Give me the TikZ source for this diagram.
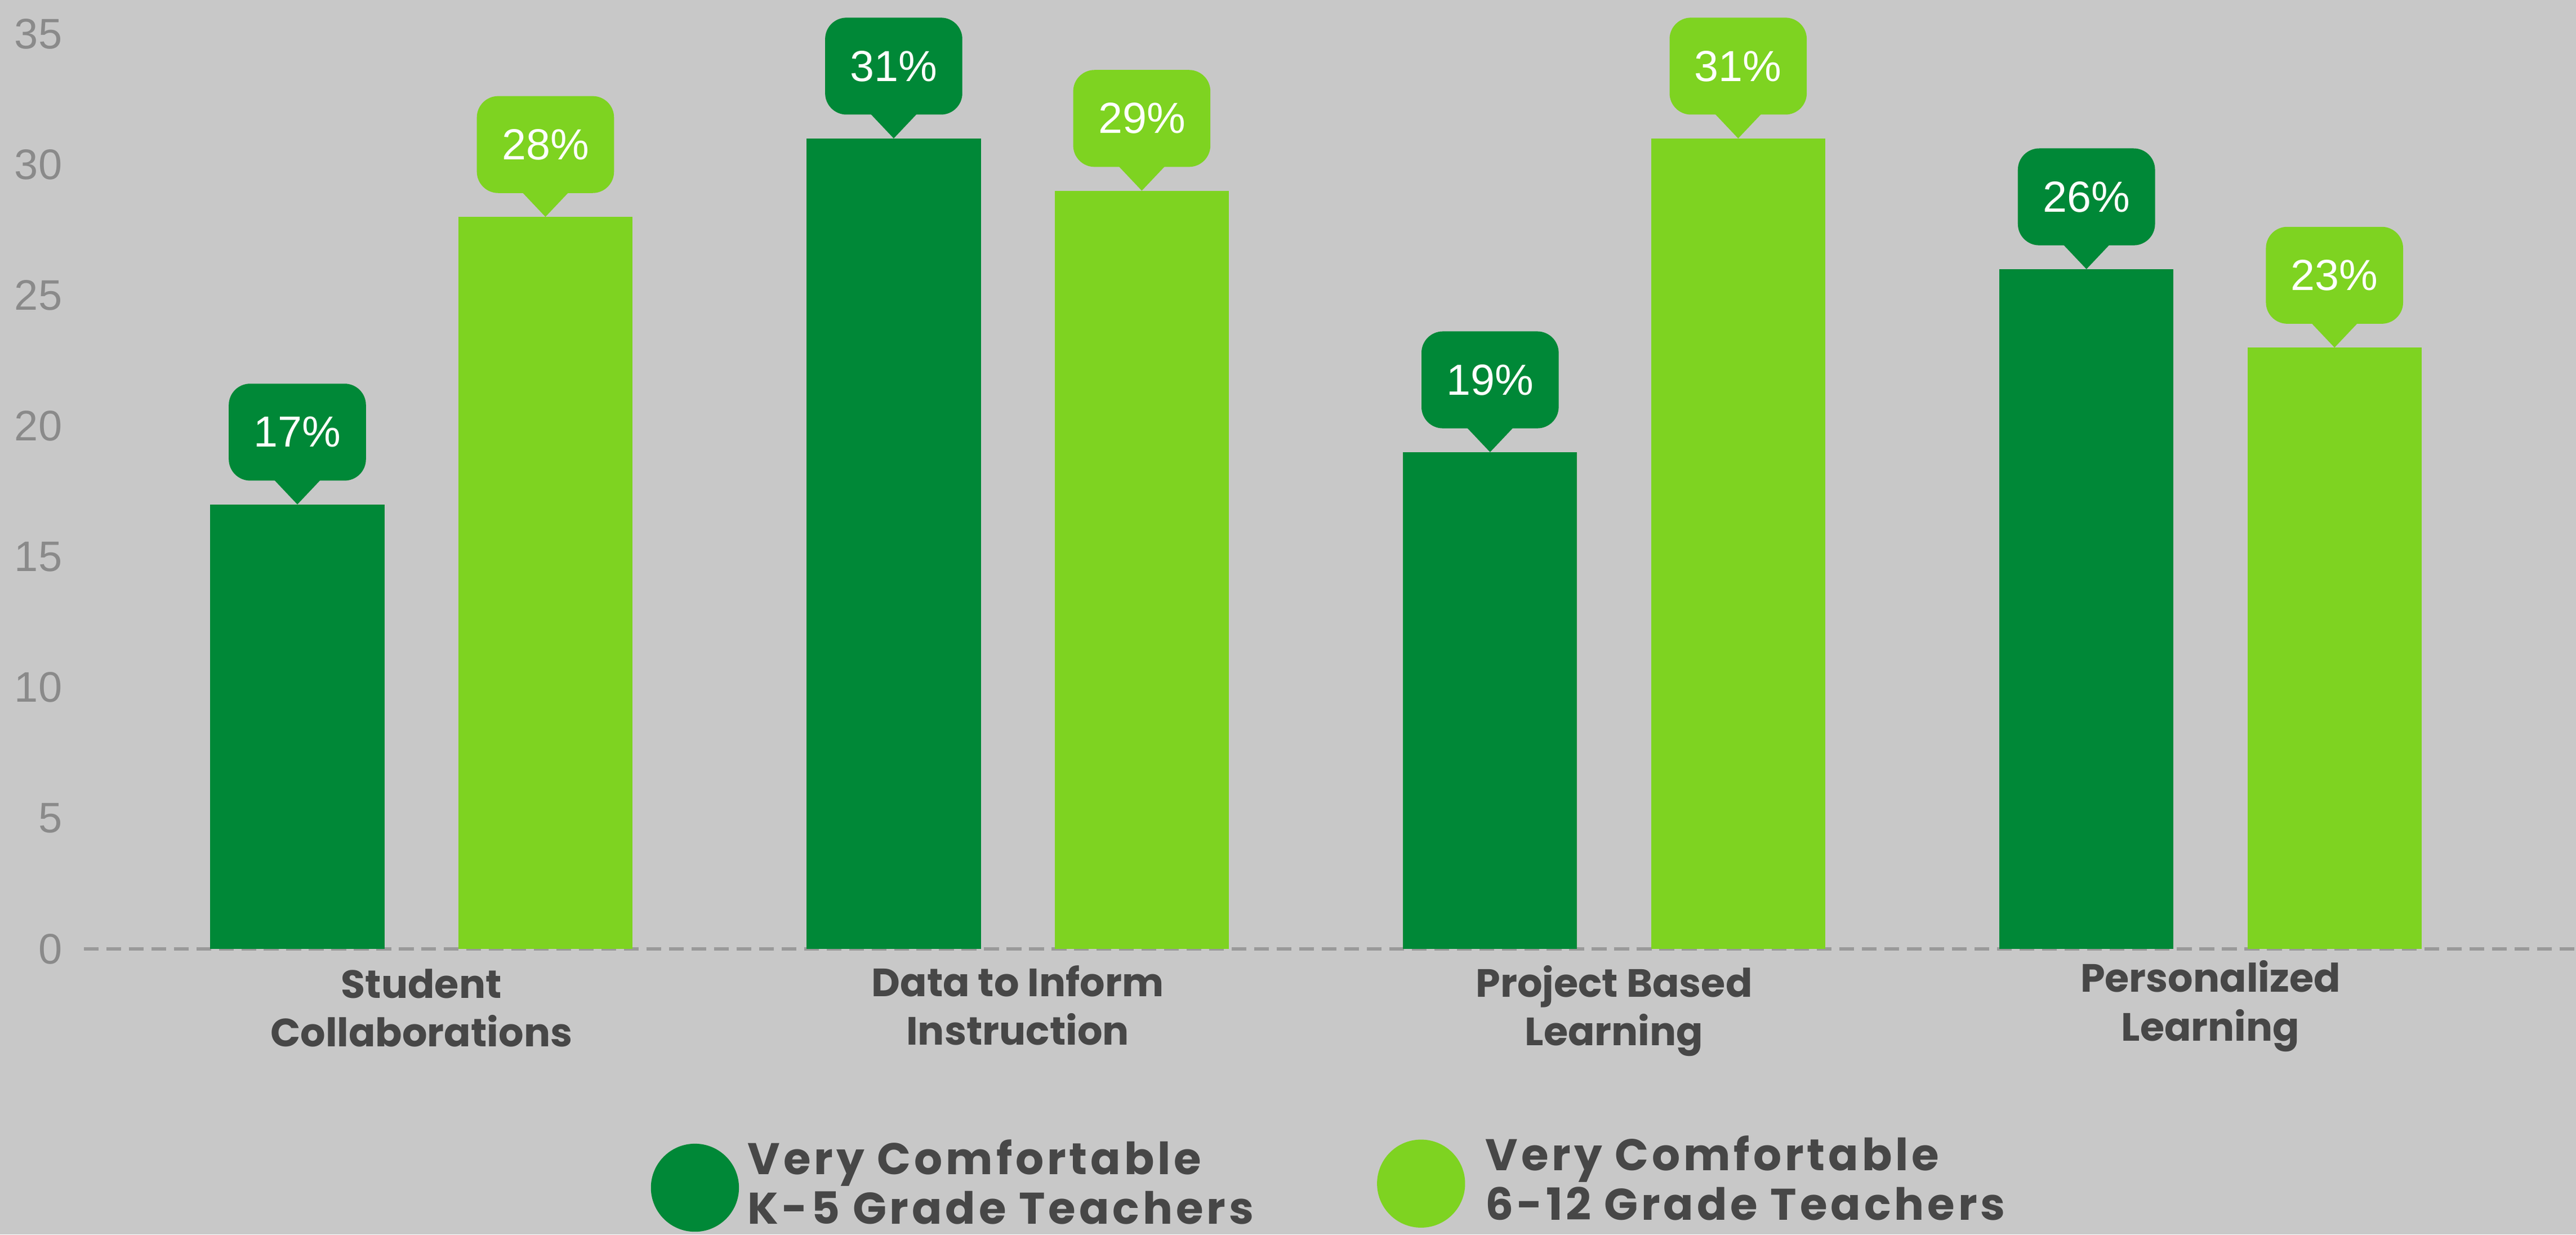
\documentclass[tikz,border=0pt]{standalone}
\usepackage{fontspec}
\setmainfont{Liberation Sans}
\newfontfamily\catfont{Poppins}
\newfontfamily\legfont{Poppins}[LetterSpace=7.5]
\usepackage{tikz}
\definecolor{bgray}{HTML}{C8C8C8}
\definecolor{kdark}{HTML}{008837}
\definecolor{klight}{HTML}{7ED321}
\definecolor{ticktxt}{HTML}{8A8A8A}
\definecolor{cattxt}{HTML}{474747}
\definecolor{axisgray}{HTML}{9A9A9A}

\begin{document}
\begin{tikzpicture}[x=1pt,y=1pt,
  bubble/.style={rounded corners=13pt, minimum width=83.5pt, minimum height=59pt, inner sep=0pt, text=white, font=\fontsize{26.5}{26.5}\selectfont},
  ticklbl/.style={anchor=east, text=ticktxt, inner sep=0pt, font=\fontsize{26}{26}\selectfont},
  catlbl/.style={anchor=north, align=center, text=cattxt, inner sep=0pt, font=\catfont\bfseries\fontsize{24}{29.5}\selectfont},
  legtxt/.style={anchor=west, align=left, text=cattxt, inner sep=0pt, font=\legfont\bfseries\fontsize{27}{30}\selectfont}]
\fill[bgray] (0,-174) rectangle (1568,577.6);
\useasboundingbox (0,-174) rectangle (1568,577.6);

% value axis
\foreach \v in {0,5,...,35}
  \node[ticklbl] (y\v) at (38,\v*15.914) {\v};
\draw[axisgray, line width=1.8pt, dash pattern=on 9pt off 4.7pt] (51,0) -- (1568,0);

% bars, bubbles and category names
\foreach \i/\va/\vb/\ly/\lbl in {0/17/28/-12/{Student\\Collaborations},
    1/31/29/-10/{Data to Inform\\Instruction},
    2/19/31/-10/{Project Based\\Learning},
    3/26/23/-7/{Personalized\\Learning}} {
  \pgfmathsetmacro\xa{181+363*\i}
  \pgfmathsetmacro\xb{332+363*\i}
  \fill[kdark] (\xa-53,0) rectangle (\xa+53,\va*15.914);
  \fill[klight] (\xb-53,0) rectangle (\xb+53,\vb*15.914);
  \coordinate (ta\i) at (\xa,\va*15.914);
  \coordinate (tb\i) at (\xb,\vb*15.914);
  \node[bubble, fill=kdark] (ka\i) at (\xa,\va*15.914+44) {\va\%};
  \node[bubble, fill=klight] (kb\i) at (\xb,\vb*15.914+44) {\vb\%};
  \fill[kdark] ([xshift=-14pt,yshift=0.5pt]ka\i.south) -- (ta\i) -- ([xshift=14pt,yshift=0.5pt]ka\i.south) -- cycle;
  \fill[klight] ([xshift=-14pt,yshift=0.5pt]kb\i.south) -- (tb\i) -- ([xshift=14pt,yshift=0.5pt]kb\i.south) -- cycle;
  \node[catlbl] (cat\i) at ({(\xa+\xb)/2},\ly) {\lbl};
}

% legend
\node[circle, fill=kdark, minimum size=53.6pt, inner sep=0pt] (dotA) at (423,-145.4) {};
\node[circle, fill=klight, minimum size=53.6pt, inner sep=0pt] (dotB) at (865,-142.9) {};
\node[legtxt] (legA) at (455,-142) {Very Comfortable\\K-5 Grade Teachers};
\node[legtxt] (legB) at (904,-139.5) {Very Comfortable\\6-12 Grade Teachers};
\end{tikzpicture}
\end{document}
